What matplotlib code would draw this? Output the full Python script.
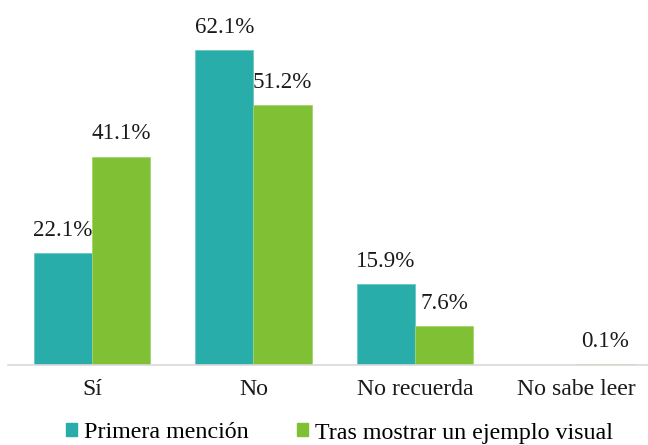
import matplotlib
matplotlib.use("Agg")
import matplotlib.pyplot as plt
import numpy as np
from matplotlib.patches import Patch

categories = ["Sí", "No", "No recuerda", "No sabe leer"]
primera = [22.1, 62.1, 15.9, 0.0]
tras = [41.1, 51.2, 7.6, 0.1]
series_names = ["Primera mención", "Tras mostrar un ejemplo visual"]
show_primera = [True, True, True, False]
show_tras = [True, True, True, True]

teal = "#29ADAA"
green = "#80C035"
text_color = "#1a1a1a"

plt.rcParams["font.family"] = "serif"
plt.rcParams["font.serif"] = ["Liberation Serif", "DejaVu Serif"]

fig = plt.figure(figsize=(6.48, 4.45), dpi=100)
W, H = 648, 445
ax = fig.add_axes([8 / W, 80 / H, 640 / W, 355 / H])

x = np.arange(len(categories))
bw = 0.36
b1 = ax.bar(x - bw / 2, primera, bw, color=teal, edgecolor="#6CC6C3", linewidth=0.6)
b2 = ax.bar(x + bw / 2, tras, bw, color=green, edgecolor="#A5D36F", linewidth=0.6)

for bars, vals, shown in [(b1, primera, show_primera), (b2, tras, show_tras)]:
    for rect, v, s in zip(bars, vals, shown):
        if s:
            ax.annotate(f"{v:.1f}%", (rect.get_x() + rect.get_width() / 2, v),
                        xytext=(0, 12.5), textcoords="offset points",
                        ha="center", va="baseline", fontsize=16.6, color=text_color)

ax.set_xlim(-0.52, 3.443)
ax.set_ylim(0, 70)
ax.set_xticks(x)
ax.set_xticklabels(categories, fontsize=17.1, color=text_color)
ax.tick_params(axis="x", length=0, pad=10)
ax.set_yticks([])
for side in ["top", "right", "left"]:
    ax.spines[side].set_visible(False)
ax.spines["bottom"].set_color("#D9D9D9")
ax.spines["bottom"].set_linewidth(1.2)

handles = [Patch(color=teal), Patch(color=green)]
fig.legend(handles, series_names, loc="center", bbox_to_anchor=(339.5 / W, 1 - 433 / H),
           ncol=2, frameon=False, fontsize=17.3, handlelength=0.45, handleheight=0.45,
           handletextpad=0.3, columnspacing=2.0, borderpad=0)

fig.savefig("out.png", dpi=100)
